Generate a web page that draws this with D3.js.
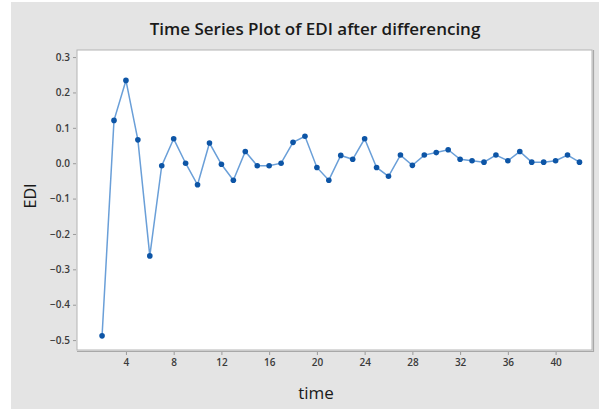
<!DOCTYPE html>
<html>
<head>
<meta charset="utf-8">
<script src="https://cdn.jsdelivr.net/npm/d3@7"></script>
<style>
  html, body { margin: 0; padding: 0; background: #ffffff; }
  svg { display: block; }
</style>
</head>
<body>
<svg id="chart" width="599" height="412"></svg>
<script>
const times = d3.range(2, 43);
const ediValues = [-0.488, 0.121, 0.234, 0.066, -0.262, -0.007, 0.069, 0.000, -0.061, 0.057,
  -0.003, -0.048, 0.033, -0.007, -0.007, 0.000, 0.059, 0.076, -0.012, -0.048,
  0.022, 0.011, 0.069, -0.012, -0.037, 0.023, -0.006, 0.023, 0.030, 0.038,
  0.011, 0.007, 0.003, 0.023, 0.007, 0.033, 0.003, 0.003, 0.007, 0.023, 0.003];
const xTicks = [4, 8, 12, 16, 20, 24, 28, 32, 36, 40];
const yTicks = [0.3, 0.2, 0.1, 0.0, -0.1, -0.2, -0.3, -0.4, -0.5];
const titleText = "Time Series Plot of EDI after differencing";
const xLabel = "time";
const yLabel = "EDI";

const data = times.map((t, i) => ({ t, v: ediValues[i] }));

const svg = d3.select("#chart");
const W = 599, H = 412;
const plot = { left: 77, top: 50, right: 592, bottom: 350 };

// background panel
svg.append("rect").attr("x", 11).attr("y", 2).attr("width", W - 11).attr("height", 407)
  .attr("fill", "#e4e4e4");

const x = d3.scaleLinear().domain([-0.1, 43.05]).range([plot.left, plot.right]);
const y = d3.scaleLinear().domain([-0.528, 0.32]).range([plot.bottom, plot.top]);

// plot area
svg.append("rect").attr("x", plot.left).attr("y", plot.top)
  .attr("width", plot.right - plot.left).attr("height", plot.bottom - plot.top)
  .attr("fill", "#ffffff").attr("stroke", "#b4b4b4").attr("stroke-width", 1);
svg.append("path")
  .attr("d", `M${plot.right + 1.5},${plot.top} V${plot.bottom + 1.5} H${plot.left}`)
  .attr("fill", "none").attr("stroke", "#a8a8a8").attr("stroke-width", 1.2);

// axes
const xAxis = d3.axisBottom(x).tickValues(xTicks).tickSize(3).tickPadding(4)
  .tickFormat(d3.format("d"));
const gx = svg.append("g").attr("transform", `translate(0,${plot.bottom + 2})`).call(xAxis);
gx.select(".domain").remove();

const yAxis = d3.axisLeft(y).tickValues(yTicks).tickSize(3).tickPadding(3)
  .tickFormat(d3.format(".1f"));
const gy = svg.append("g").attr("transform", `translate(${plot.left - 1},0)`).call(yAxis);
gy.select(".domain").remove();

[gx, gy].forEach(g => {
  g.selectAll(".tick line").attr("stroke", "#9a9a9a");
  g.selectAll(".tick text").attr("fill", "#3a3a3a")
    .style("font-family", "'Open Sans', sans-serif").style("font-size", "10px")
    .style("font-weight", "600");
});

// line
const line = d3.line().x(d => x(d.t)).y(d => y(d.v));
svg.append("path").datum(data).attr("d", line)
  .attr("fill", "none").attr("stroke", "#6a9fd8").attr("stroke-width", 1.5);

svg.append("g").selectAll("circle").data(data).join("circle")
  .attr("cx", d => x(d.t)).attr("cy", d => y(d.v)).attr("r", 2.8)
  .attr("fill", "#0d55a6");

// title and labels
svg.append("text").attr("x", 315).attr("y", 35).attr("text-anchor", "middle")
  .style("font-family", "'Open Sans', sans-serif").style("font-size", "17px")
  .style("font-weight", "600").attr("fill", "#1a1a1a").text(titleText);

svg.append("text").attr("x", 316).attr("y", 399).attr("text-anchor", "middle")
  .style("font-family", "'Open Sans', sans-serif").style("font-size", "17px")
  .attr("fill", "#1a1a1a").text(xLabel);

svg.append("text").attr("transform", "translate(36,196) rotate(-90)")
  .attr("text-anchor", "middle")
  .style("font-family", "'Open Sans', sans-serif").style("font-size", "16px")
  .attr("fill", "#1a1a1a").text(yLabel);
</script>
</body>
</html>
